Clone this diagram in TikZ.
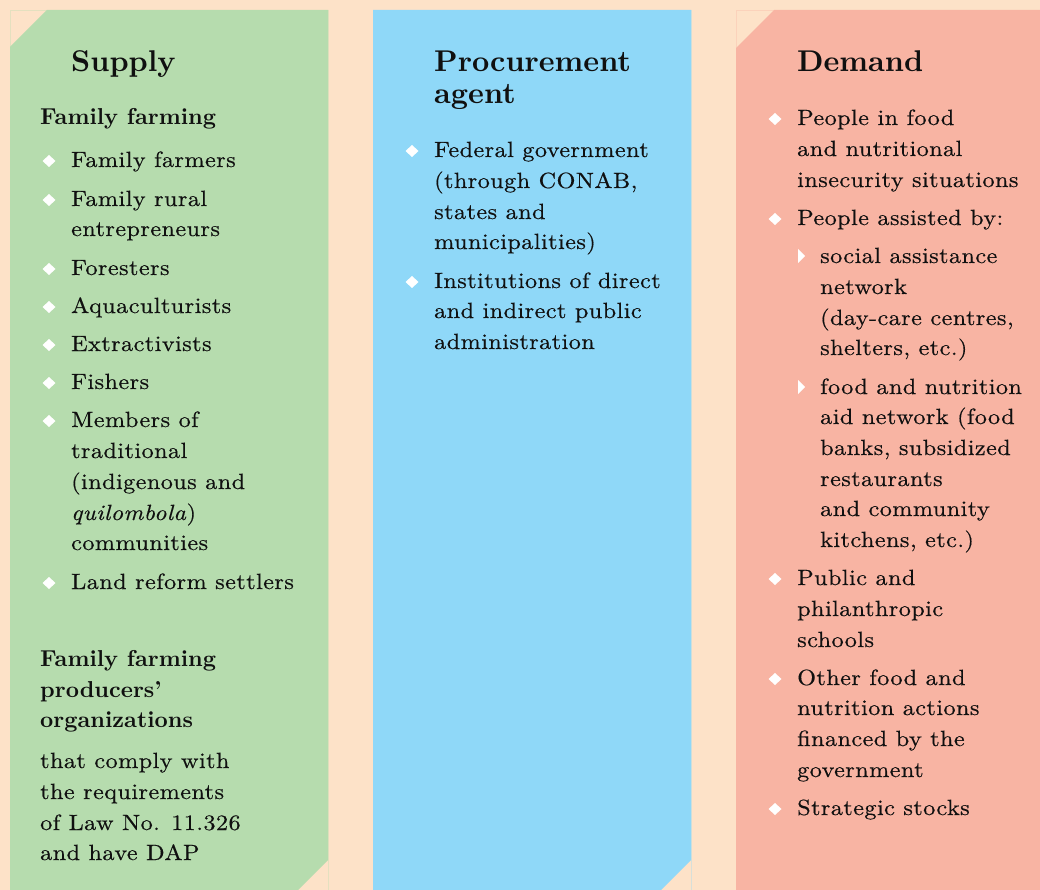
\documentclass[tikz,border=0pt]{standalone}
\usepackage{fontspec}
\newfontfamily\bodyfont{lmroman10-regular}[Extension=.otf, ItalicFont=lmroman10-italic, FakeStretch=1.1, LetterSpace=2, FakeBold=0.45]
\newfontfamily\headfont{lmroman10-bold}[Extension=.otf]
\definecolor{bg}{HTML}{FDE2C8}
\definecolor{supplyc}{HTML}{B6DCAE}
\definecolor{agentc}{HTML}{8FD8F8}
\definecolor{demandc}{HTML}{F8B4A3}
\definecolor{ink}{HTML}{101010}
\tikzset{
  body/.style={anchor=base west, inner sep=0pt, text=ink, font=\bodyfont\fontsize{22}{31}\selectfont},
  sub/.style={anchor=base west, inner sep=0pt, text=ink, font=\headfont\fontsize{23}{31}\selectfont},
  head/.style={anchor=base west, inner sep=0pt, text=ink, font=\headfont\fontsize{30}{32}\selectfont},
  dmd/.pic={\fill[white] (-6.5,0) -- (0,-6) -- (6.5,0) -- (0,6) -- cycle;},
  tri/.pic={\fill[white] (-3.5,-7) -- (3.5,0) -- (-3.5,7) -- cycle;},
  edge/.style={line width=0.8pt}
}
\begin{document}
\begin{tikzpicture}[x=1pt,y=-1pt]
\fill[bg] (0,0) rectangle (1040,890);
\useasboundingbox (0,0) rectangle (1040,890);

% faint panel outlines, visible only at the cut corners
\draw[edge, draw=supplyc!35!bg] (10,10) rectangle (328,891);
\draw[edge, draw=agentc!35!bg] (373,10) rectangle (691,891);
\draw[edge, draw=demandc!35!bg] (736,10) rectangle (1041,891);

% the three column panels
\fill[supplyc] (10,47) -- (47,10) -- (328,10) -- (328,860) -- (298,890) -- (10,890) -- cycle;
\fill[agentc] (373,10) -- (691,10) -- (691,860) -- (661,890) -- (373,890) -- cycle;
\fill[demandc] (736,48) -- (774,10) -- (1040,10) -- (1040,890) -- (736,890) -- cycle;

% ---------------- Supply ----------------
\node[head] (supply) at (71,72) {Supply};
\node[sub] (ff) at (40,125) {Family farming};
\foreach \y in {161,200,269,307,345,383,421,583} {\pic at (49,\y) {dmd};}
\node[body] (s1) at (71,167) {Family farmers};
\node[body] (s2a) at (71,206) {Family rural};
\node[body] (s2b) at (71,236) {entrepreneurs};
\node[body] (s3) at (71,275) {Foresters};
\node[body] (s4) at (71,313) {Aquaculturists};
\node[body] (s5) at (71,351) {Extractivists};
\node[body] (s6) at (71,389) {Fishers};
\node[body] (s7a) at (71,427) {Members of};
\node[body] (s7b) at (71,458) {traditional};
\node[body] (s7c) at (71,489) {(indigenous and};
\node[body] (s7d) at (71,520) {\textit{quilombola})};
\node[body] (s7e) at (71,550) {communities};
\node[body] (s8) at (71,589) {Land reform settlers};
\node[sub] (po1) at (40,666) {Family farming};
\node[sub] (po2) at (40,697) {producers’};
\node[sub] (po3) at (40,727) {organizations};
\node[body] (pt1) at (40,768) {that comply with};
\node[body] (pt2) at (40,799) {the requirements};
\node[body] (pt3) at (40,830) {of Law No. 11.326};
\node[body] (pt4) at (40,860) {and have DAP};

% ---------------- Procurement agent ----------------
\node[head] (agent1) at (434,72) {Procurement};
\node[head] (agent2) at (434,104) {agent};
\foreach \y in {151,282} {\pic at (412,\y) {dmd};}
\node[body] (a1a) at (434,157) {Federal government};
\node[body] (a1b) at (434,188) {(through CONAB,};
\node[body] (a1c) at (434,219) {states and};
\node[body] (a1d) at (434,249) {municipalities)};
\node[body] (a2a) at (434,288) {Institutions of direct};
\node[body] (a2b) at (434,318) {and indirect public};
\node[body] (a2c) at (434,349) {administration};

% ---------------- Demand ----------------
\node[head] (demand) at (797,72) {Demand};
\foreach \y in {119,219,579,679,809} {\pic at (775,\y) {dmd};}
\foreach \y in {256,387} {\pic at (801.5,\y) {tri};}
\node[body] (d1a) at (797,125) {People in food};
\node[body] (d1b) at (797,156) {and nutritional};
\node[body] (d1c) at (797,187) {insecurity situations};
\node[body] (d2) at (797,225) {People assisted by:};
\node[body] (d2aa) at (820,263) {social assistance};
\node[body] (d2ab) at (820,294) {network};
\node[body] (d2ac) at (820,325) {(day-care centres,};
\node[body] (d2ad) at (820,355) {shelters, etc.)};
\node[body] (d2ba) at (820,394) {food and nutrition};
\node[body] (d2bb) at (820,424) {aid network (food};
\node[body] (d2bc) at (820,455) {banks, subsidized};
\node[body] (d2bd) at (820,486) {restaurants};
\node[body] (d2be) at (820,516) {and community};
\node[body] (d2bf) at (820,547) {kitchens, etc.)};
\node[body] (d3a) at (797,585) {Public and};
\node[body] (d3b) at (797,616) {philanthropic};
\node[body] (d3c) at (797,647) {schools};
\node[body] (d4a) at (797,685) {Other food and};
\node[body] (d4b) at (797,715) {nutrition actions};
\node[body] (d4c) at (797,746) {financed by the};
\node[body] (d4d) at (797,777) {government};
\node[body] (d5) at (797,815) {Strategic stocks};
\end{tikzpicture}
\end{document}
